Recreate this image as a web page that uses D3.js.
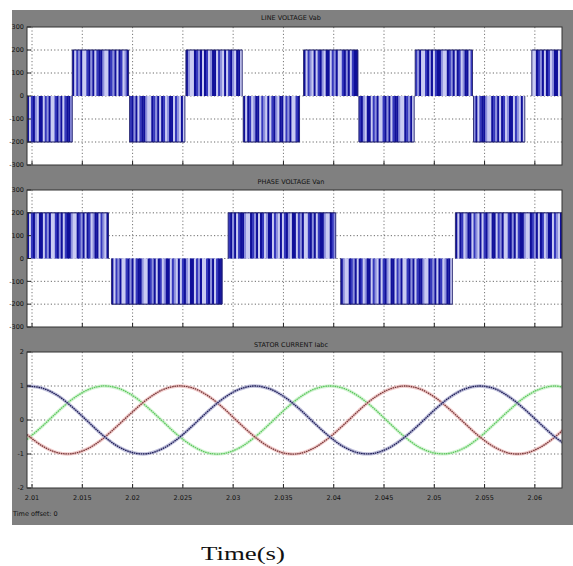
<!DOCTYPE html>
<html>
<head>
<meta charset="utf-8">
<script src="https://cdn.jsdelivr.net/npm/d3@7"></script>
<style>
  html, body { margin: 0; padding: 0; background: #fff; }
  svg { display: block; }
  .tiny { font-family: "DejaVu Sans", sans-serif; font-size: 6.5px; fill: #111; }
</style>
</head>
<body>
<svg id="chart" width="573" height="566"></svg>
<script>
// ---- data ----
const xTicks = [2.01, 2.015, 2.02, 2.025, 2.03, 2.035, 2.04, 2.045, 2.05, 2.055, 2.06];
const xDomain = [2.0095, 2.0627];

const voltTicks = [300, 200, 100, 0, -100, -200, -300];
const currTicks = [2, 1, 0, -1, -2];

const titles = ['LINE VOLTAGE Vab', 'PHASE VOLTAGE Van', 'STATOR CURRENT Iabc'];

// PWM envelope blocks: [start, end, sign], amplitude in volts
const pwmAmp = 200;
const lineBlocks = [
  [2.0095, 2.0140, -1], [2.0140, 2.0196, 1], [2.0197, 2.0252, -1], [2.0253, 2.0309, 1],
  [2.0310, 2.0366, -1], [2.0370, 2.0424, 1], [2.0425, 2.0480, -1], [2.0481, 2.0538, 1],
  [2.0539, 2.0590, -1], [2.0597, 2.0627, 1]
];
const phaseBlocks = [
  [2.0095, 2.0176, 1], [2.0179, 2.0289, -1], [2.0295, 2.0402, 1],
  [2.0407, 2.0518, -1], [2.0521, 2.0627, 1]
];
// shade of each pulse stripe (0 = darkest)
const stripePattern = [0,3,1,0,2,3,0,0,3,1,2,0,3,3,1,0,2,0,3,1,0,0,2,3,3,0,1,2,0,3,0,1,3,2,0,0,3,1,2,3];

// phase currents, sampled every 1.5 ms
const tCur = d3.range(37).map(i => +(2.0095 + i * 0.0015).toFixed(4));
const iaVals = [1.00,0.94,0.73,0.38,-0.03,-0.44,-0.77,-0.96,-0.99,-0.84,-0.55,-0.16,0.26,0.63,0.89,1.00,0.93,0.70,0.35,-0.07,-0.47,-0.79,-0.97,-0.98,-0.82,-0.52,-0.13,0.29,0.66,0.91,1.00,0.92,0.67,0.31,-0.10,-0.50,-0.81];
const ibVals = [-0.43,-0.76,-0.96,-0.99,-0.85,-0.56,-0.17,0.24,0.62,0.89,1.00,0.94,0.71,0.36,-0.06,-0.46,-0.78,-0.97,-0.99,-0.83,-0.53,-0.14,0.28,0.65,0.90,1.00,0.92,0.68,0.32,-0.09,-0.49,-0.80,-0.98,-0.98,-0.81,-0.50,-0.10];
const icVals = [-0.57,-0.19,0.23,0.61,0.88,1.00,0.94,0.72,0.37,-0.04,-0.45,-0.77,-0.97,-0.99,-0.84,-0.54,-0.15,0.27,0.64,0.90,1.00,0.93,0.69,0.34,-0.08,-0.48,-0.80,-0.97,-0.98,-0.82,-0.51,-0.11,0.30,0.67,0.91,1.00,0.91];

// ---- layout ----
const svg = d3.select('#chart');
const left = 27, right = 562;
const panels = [
  { top: 27, bottom: 165, titleY: 18 },
  { top: 190, bottom: 327, titleY: 182 },
  { top: 352, bottom: 488, titleY: 345 }
];

svg.append('rect').attr('x', 12).attr('y', 10).attr('width', 561).attr('height', 515).attr('fill', '#808080');

const x = d3.scaleLinear().domain(xDomain).range([left, right]);
const shades = ['#10109a', '#3538bd', '#8d90dc', '#c9cbf2'];

svg.append('defs').append('clipPath').attr('id', 'plotclip')
  .append('rect').attr('x', left).attr('y', 0).attr('width', right - left).attr('height', 566);

const drawFrame = (p, y, ticks, i) => {
  const g = svg.append('g');
  g.append('rect')
    .attr('x', left).attr('y', p.top)
    .attr('width', right - left).attr('height', p.bottom - p.top)
    .attr('fill', '#fff');
  // grid
  g.selectAll('.hg').data(ticks.slice(1, -1)).join('line')
    .attr('x1', left).attr('x2', right)
    .attr('y1', d => y(d)).attr('y2', d => y(d))
    .attr('stroke', '#444').attr('stroke-width', 0.8).attr('stroke-dasharray', '1.2,2.2');
  g.selectAll('.vg').data(xTicks).join('line')
    .attr('x1', d => x(d)).attr('x2', d => x(d))
    .attr('y1', p.top).attr('y2', p.bottom)
    .attr('stroke', '#555').attr('stroke-width', 0.8).attr('stroke-dasharray', '1.2,2.2');
  // y labels
  g.selectAll('.yl').data(ticks).join('text')
    .attr('class', 'tiny')
    .attr('x', 24).attr('y', d => y(d) + 2.3)
    .attr('text-anchor', 'end')
    .text(d => d);
  // title
  g.append('text').attr('class', 'tiny')
    .attr('x', 291).attr('y', p.titleY + 2)
    .attr('text-anchor', 'middle')
    .text(titles[i]);
  return g;
};

const drawTicksBorder = (p, y, ticks) => {
  const g = svg.append('g');
  g.selectAll('.xt').data(xTicks).join('line')
    .attr('x1', d => x(d)).attr('x2', d => x(d))
    .attr('y1', p.bottom).attr('y2', p.bottom - 4)
    .attr('stroke', '#222').attr('stroke-width', 1);
  g.selectAll('.yt').data(ticks).join('line')
    .attr('x1', left).attr('x2', left + 4)
    .attr('y1', d => y(d)).attr('y2', d => y(d))
    .attr('stroke', '#222').attr('stroke-width', 1);
  g.append('rect')
    .attr('x', left).attr('y', p.top)
    .attr('width', right - left).attr('height', p.bottom - p.top)
    .attr('fill', 'none').attr('stroke', '#333').attr('stroke-width', 1);
};

const drawPwm = (p, blocks, i) => {
  const y = d3.scaleLinear().domain([-300, 300]).range([p.bottom, p.top]);
  drawFrame(p, y, voltTicks, i);
  const g = svg.append('g').attr('clip-path', 'url(#plotclip)');
  blocks.forEach((b, bi) => {
    const x0 = x(b[0]), x1 = x(b[1]);
    const yA = y(0), yB = y(b[2] * pwmAmp);
    const top = Math.min(yA, yB), h = Math.abs(yA - yB);
    const n = Math.max(4, Math.round((x1 - x0) / 2));
    const w = (x1 - x0) / n;
    const stripes = d3.range(n).map(k => stripePattern[(k + bi * 7) % stripePattern.length]);
    g.append('rect').attr('x', x0).attr('y', top).attr('width', x1 - x0).attr('height', h)
      .attr('fill', shades[3]);
    g.selectAll(null).data(stripes).join('rect')
      .attr('x', (d, k) => x0 + k * w)
      .attr('y', top)
      .attr('width', w + 0.3)
      .attr('height', h)
      .attr('fill', d => shades[d]);
    // outer level edge
    g.append('line').attr('x1', x0).attr('x2', x1).attr('y1', yB).attr('y2', yB)
      .attr('stroke', '#151560').attr('stroke-width', 1);
    g.append('line').attr('x1', x0).attr('x2', x0).attr('y1', top).attr('y2', top + h)
      .attr('stroke', '#2a2a70').attr('stroke-width', 0.9);
    g.append('line').attr('x1', x1).attr('x2', x1).attr('y1', top).attr('y2', top + h)
      .attr('stroke', '#2a2a70').attr('stroke-width', 0.9);
  });
  drawTicksBorder(p, y, voltTicks);
};

drawPwm(panels[0], lineBlocks, 0);
drawPwm(panels[1], phaseBlocks, 1);

// currents
const p3 = panels[2];
const y3 = d3.scaleLinear().domain([-2, 2]).range([p3.bottom, p3.top]);
drawFrame(p3, y3, currTicks, 2);
const gc = svg.append('g').attr('clip-path', 'url(#plotclip)');
const series = [
  { vals: icVals, color: '#5cc85c', halo: '#c6f0c6' },
  { vals: ibVals, color: '#7a3a3a', halo: '#ecb8b8' },
  { vals: iaVals, color: '#1c1c55', halo: '#a4a4cc' }
];
const lineGen = d3.line().x(d => x(d[0])).y(d => y3(d[1])).curve(d3.curveCatmullRom);
series.forEach(s => {
  const pts = tCur.map((t, k) => [t, s.vals[k]]);
  gc.append('path').datum(pts).attr('d', lineGen)
    .attr('fill', 'none').attr('stroke', s.halo).attr('stroke-width', 3.4).attr('opacity', 0.7);
  gc.append('path').datum(pts).attr('d', lineGen)
    .attr('fill', 'none').attr('stroke', s.color).attr('stroke-width', 1.3)
    .attr('stroke-dasharray', '1.6,0.7');
});
drawTicksBorder(p3, y3, currTicks);

// x tick labels
svg.selectAll('.xl').data(xTicks).join('text')
  .attr('class', 'tiny')
  .attr('x', d => x(d)).attr('y', 500)
  .attr('text-anchor', 'middle')
  .text(d => d);

svg.append('text').attr('class', 'tiny')
  .attr('x', 13).attr('y', 516)
  .text('Time offset:  0');

svg.append('text')
  .attr('x', 201).attr('y', 560)
  .attr('font-family', '"Liberation Serif", "Times New Roman", serif')
  .attr('font-size', 19)
  .attr('fill', '#111')
  .attr('textLength', 84).attr('lengthAdjust', 'spacingAndGlyphs')
  .text('Time(s)');
</script>
</body>
</html>
